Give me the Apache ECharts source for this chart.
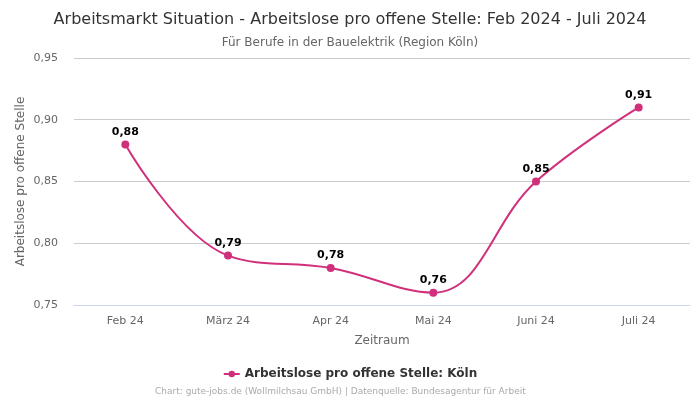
<!DOCTYPE html>
<html>
<head>
<meta charset="utf-8">
<script src="https://cdn.jsdelivr.net/npm/echarts@6/dist/echarts.min.js"></script>
<style>
  html, body { margin: 0; padding: 0; background: #fff; }
  #chart { width: 700px; height: 400px; }
</style>
</head>
<body>
<div id="chart"></div>
<script>
var months = ['Feb 24', 'März 24', 'Apr 24', 'Mai 24', 'Juni 24', 'Juli 24']
var koeln = [0.88, 0.79, 0.78, 0.76, 0.85, 0.91]
var seriesName = 'Arbeitslose pro offene Stelle: Köln'

var fmt = function (v) { return v.toFixed(2).replace('.', ',') }
var font = 'DejaVu Sans'

var chart = echarts.init(document.getElementById('chart'), null, { renderer: 'canvas' })
chart.setOption({
  animation: false,
  textStyle: { fontFamily: font },
  title: [{
    text: 'Arbeitsmarkt Situation - Arbeitslose pro offene Stelle: Feb 2024 - Juli 2024',
    left: 'center',
    top: 7,
    textStyle: { fontFamily: font, fontSize: 16, fontWeight: 'normal', color: '#333' }
  }, {
    text: 'Für Berufe in der Bauelektrik (Region Köln)',
    left: 'center',
    top: 32,
    textStyle: { fontFamily: font, fontSize: 12, fontWeight: 'normal', color: '#666' }
  }, {
    text: 'Chart: gute-jobs.de (Wollmilchsau GmbH) | Datenquelle: Bundesagentur für Arbeit',
    left: 150,
    top: 382,
    textStyle: { fontFamily: font, fontSize: 9, fontWeight: 'normal', color: '#aaa' }
  }],
  legend: {
    data: [seriesName],
    bottom: 15,
    left: 'center',
    itemWidth: 16,
    itemHeight: 8,
    textStyle: { fontFamily: font, fontSize: 12, fontWeight: 'bold', color: '#333' }
  },
  grid: { left: 74, right: 10, top: 58, bottom: 95 },
  xAxis: {
    type: 'category',
    data: months,
    boundaryGap: true,
    name: 'Zeitraum',
    nameLocation: 'middle',
    nameGap: 30,
    nameTextStyle: { fontFamily: font, fontSize: 12, color: '#666' },
    axisLine: { lineStyle: { color: '#ccd6eb' } },
    axisTick: { show: false },
    axisLabel: { fontFamily: font, fontSize: 11, color: '#666', margin: 11 }
  },
  yAxis: {
    type: 'value',
    min: 0.75,
    max: 0.95,
    interval: 0.05,
    name: 'Arbeitslose pro offene Stelle',
    nameLocation: 'middle',
    nameGap: 47,
    nameMoveOverlap: false,
    nameTextStyle: { fontFamily: font, fontSize: 12, color: '#666' },
    axisLine: { show: false },
    axisTick: { show: false },
    splitLine: { lineStyle: { color: '#cccccc' } },
    axisLabel: { fontFamily: font, fontSize: 11, color: '#666', margin: 16, formatter: fmt }
  },
  series: [{
    name: seriesName,
    type: 'line',
    data: koeln,
    smooth: 0.4,
    symbol: 'circle',
    symbolSize: 8,
    color: '#d0307b',
    lineStyle: { width: 2, color: '#d0307b' },
    label: {
      show: true,
      position: 'top',
      distance: 3,
      fontFamily: font,
      fontSize: 11,
      fontWeight: 'bold',
      color: '#000',
      formatter: function (p) { return fmt(p.value) }
    }
  }]
})
</script>
</body>
</html>
